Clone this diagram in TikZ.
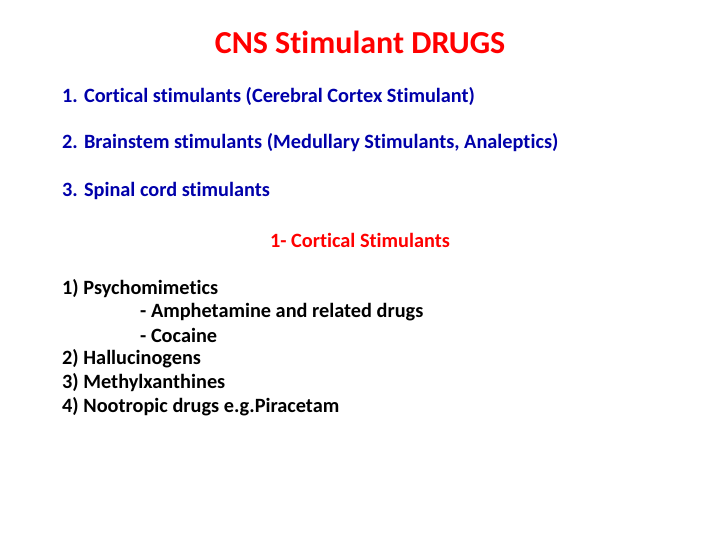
\documentclass[tikz,border=0pt]{standalone}
\usepackage{fontspec}
\setmainfont[Ligatures={NoCommon}]{Carlito}
\definecolor{tred}{RGB}{255,0,0}
\definecolor{tblue}{RGB}{0,0,170}
\begin{document}
\begin{tikzpicture}[x=1pt,y=-1pt,
  txt/.style={anchor=west,inner sep=0pt,font=\bfseries\fontsize{20.3}{22}\selectfont},
  bl/.style={txt,text=tblue}]
\useasboundingbox (0,0) rectangle (720,540);
\node[inner sep=0pt,text=tred,font=\bfseries\fontsize{32}{36}\selectfont] (title) at (360,42) {CNS Stimulant DRUGS};
\node[bl] (a) at (62,97) {1. Cortical stimulants (Cerebral Cortex Stimulant)};
\node[bl] (b) at (62,143) {2. Brainstem stimulants (Medullary Stimulants, Analeptics)};
\node[bl] (c) at (62,191) {3. Spinal cord stimulants};
\node[txt,anchor=center,text=tred] (h) at (360,240) {1- Cortical Stimulants};
\node[txt] (l1) at (62,289) {1) Psychomimetics};
\node[txt] (l2) at (140,312) {- Amphetamine and related drugs};
\node[txt] (l3) at (140,335) {- Cocaine};
\node[txt] (l4) at (62,359) {2) Hallucinogens};
\node[txt] (l5) at (62,383) {3) Methylxanthines};
\node[txt] (l6) at (62,407) {4) Nootropic drugs e.g.Piracetam};
\end{tikzpicture}
\end{document}
